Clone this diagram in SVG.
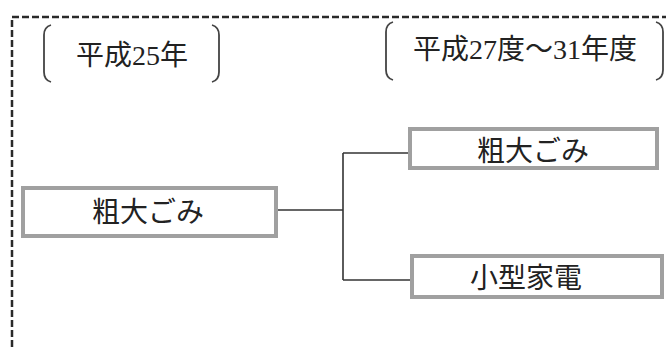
<svg xmlns="http://www.w3.org/2000/svg" width="666" height="347" viewBox="0 0 666 347">
<style>
.frame{fill:none;stroke:#2a2a2a;stroke-width:2.5;stroke-dasharray:7 3}
.br{fill:none;stroke:#444;stroke-width:1.8}
.box{fill:#fff;stroke:#a0a0a0;stroke-width:4}
.t{font-family:"Liberation Serif","Noto Sans CJK JP",serif;font-size:28px;fill:#222;text-anchor:middle;dominant-baseline:central}
.c{fill:none;stroke:#333;stroke-width:1.6}
</style>
<rect width="666" height="347" fill="#fff"/>
<path class="frame" d="M12,347 L12,17 L666,17"/>
<g id="label-h25">
<path class="br" d="M51,25 Q44,27 44,35 L44,72 Q44,80 51,82"/>
<path class="br" d="M212,25 Q219,27 219,35 L219,72 Q219,80 212,82"/>
<text class="t" x="132" y="55">平成25年</text>
</g>
<g id="label-h27">
<path class="br" d="M393,22 Q386,24 386,32 L386,70 Q386,78 393,80"/>
<path class="br" d="M656,22 Q663,24 663,32 L663,70 Q663,78 656,80"/>
<text class="t" x="525" y="49">平成27度～31年度</text>
</g>
<g id="connectors">
<path class="c" d="M277,210 L343,210"/>
<path class="c" d="M343,153 L343,280"/>
<path class="c" d="M343,153 L409,153"/>
<path class="c" d="M343,280 L411,280"/>
</g>
<g id="node-sodai-old">
<rect class="box" x="23" y="188" width="253" height="48"/>
<text class="t" x="148" y="212">粗大ごみ</text>
</g>
<g id="node-sodai-new">
<rect class="box" x="410" y="129" width="247" height="39"/>
<text class="t" x="533" y="151">粗大ごみ</text>
</g>
<g id="node-kaden">
<rect class="box" x="412" y="256" width="250" height="41"/>
<text class="t" x="526" y="278">小型家電</text>
</g>
</svg>
